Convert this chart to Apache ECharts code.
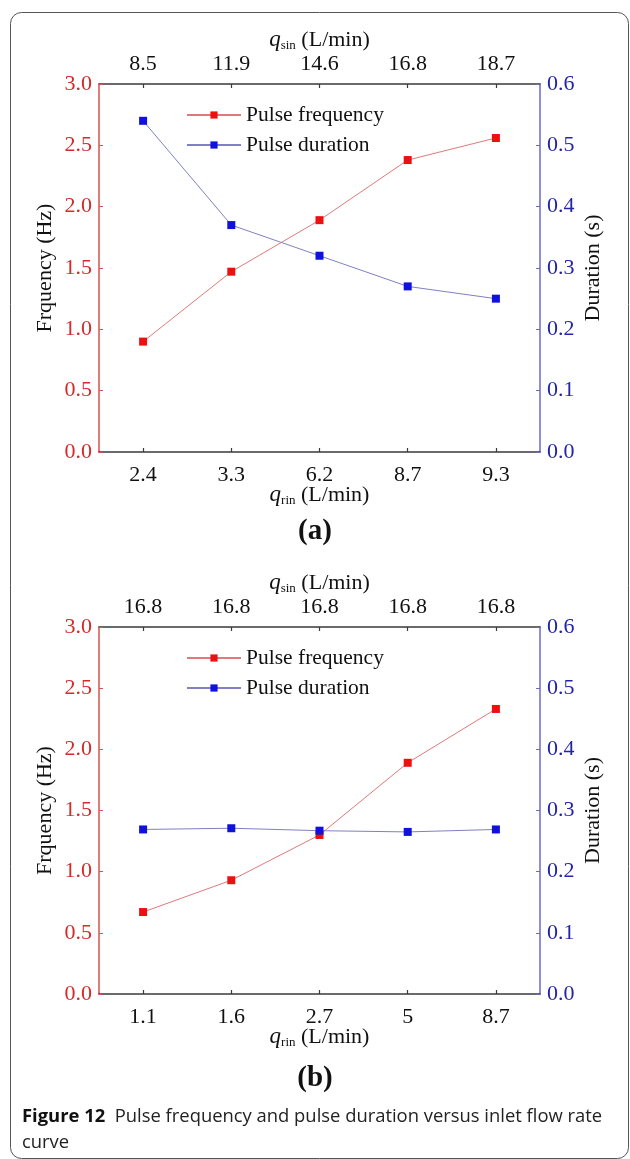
<!DOCTYPE html>
<html>
<head>
<meta charset="utf-8">
<script src="https://cdn.jsdelivr.net/npm/echarts@6/dist/echarts.min.js"></script>
<style>
  html, body { margin: 0; padding: 0; background: #fff; }
  #chart { width: 630px; height: 1159px; }
</style>
</head>
<body>
<div id="chart"></div>
<script>
// Panel (a): rear-inlet flow varies together with side-inlet flow
const qRinA = ['2.4', '3.3', '6.2', '8.7', '9.3'];
const qSinA = ['8.5', '11.9', '14.6', '16.8', '18.7'];
const freqA = [0.90, 1.47, 1.89, 2.38, 2.56];
const durA = [0.54, 0.37, 0.32, 0.27, 0.25];

// Panel (b): side-inlet flow held at 16.8 L/min
const qRinB = ['1.1', '1.6', '2.7', '5', '8.7'];
const qSinB = ['16.8', '16.8', '16.8', '16.8', '16.8'];
const freqB = [0.67, 0.93, 1.30, 1.89, 2.33];
const durB = [0.269, 0.271, 0.267, 0.265, 0.269];

const freqTicks = { min: 0, max: 3, interval: 0.5 };
const durTicks = { min: 0, max: 0.6, interval: 0.1 };

const SERIF = '"Liberation Serif", "Times New Roman", serif';
const RED = '#d42a2a';
const BLUE = '#2424a8';
const AXIS_DARK = '#3a3a3a';
const FS = 22;

const chart = echarts.init(document.getElementById('chart'), null, { renderer: 'canvas' });

const panels = [
  { top: 84, height: 368, rin: qRinA, sin: qSinA, freq: freqA, dur: durA, tag: '(a)', tagY: 531 },
  { top: 627, height: 367, rin: qRinB, sin: qSinB, freq: freqB, dur: durB, tag: '(b)', tagY: 1078 }
];

const nameRich = {
  q: { fontFamily: SERIF, fontStyle: 'italic', fontSize: 23, color: '#111', lineHeight: 24 },
  s: { fontFamily: SERIF, fontSize: 13, color: '#111', lineHeight: 24, padding: [11, 0, 0, 0] },
  t: { fontFamily: SERIF, fontSize: FS, color: '#111', lineHeight: 24 }
};

const grids = [], xAxes = [], yAxes = [], series = [], legends = [], graphics = [];

panels.forEach((p, i) => {
  grids.push({ left: 99, right: 90, top: p.top, height: p.height, containLabel: false });

  const tick = { show: true, inside: true, length: 4, alignWithLabel: true, lineStyle: { color: AXIS_DARK, width: 1.2 } };
  xAxes.push({
    type: 'category', gridIndex: i, position: 'bottom', data: p.rin, boundaryGap: true,
    axisLine: { show: true, onZero: false, lineStyle: { color: AXIS_DARK, width: 1.5 } },
    axisTick: tick,
    axisLabel: { color: '#111', fontFamily: SERIF, fontSize: FS, margin: 12 },
    name: '{q|q}{s|rin}{t| (L/min)}', nameLocation: 'middle', nameGap: 31, nameMoveOverlap: false,
    nameTextStyle: { rich: nameRich },
    splitLine: { show: false }
  });
  xAxes.push({
    type: 'category', gridIndex: i, position: 'top', data: p.sin, boundaryGap: true,
    axisLine: { show: true, onZero: false, lineStyle: { color: AXIS_DARK, width: 1.5 } },
    axisTick: tick,
    axisLabel: { color: '#111', fontFamily: SERIF, fontSize: FS, margin: 9 },
    name: '{q|q}{s|sin}{t| (L/min)}', nameLocation: 'middle', nameGap: 32, nameMoveOverlap: false,
    nameTextStyle: { rich: nameRich },
    splitLine: { show: false }
  });

  yAxes.push({
    type: 'value', gridIndex: i, position: 'left',
    min: freqTicks.min, max: freqTicks.max, interval: freqTicks.interval,
    axisLine: { show: true, onZero: false, lineStyle: { color: '#d85050', width: 1.5 } },
    axisTick: { show: true, inside: true, length: 4, lineStyle: { color: '#d85050' } },
    axisLabel: { color: RED, fontFamily: SERIF, fontSize: FS, margin: 7, formatter: v => v.toFixed(1) },
    splitLine: { show: false },
    name: 'Frquency (Hz)', nameLocation: 'middle', nameGap: 43, nameRotate: 90, nameMoveOverlap: false,
    nameTextStyle: { color: '#111', fontFamily: SERIF, fontSize: FS }
  });
  yAxes.push({
    type: 'value', gridIndex: i, position: 'right',
    min: durTicks.min, max: durTicks.max, interval: durTicks.interval,
    axisLine: { show: true, onZero: false, lineStyle: { color: '#6a6ac8', width: 1.5 } },
    axisTick: { show: true, inside: true, length: 4, lineStyle: { color: '#6a6ac8' } },
    axisLabel: { color: BLUE, fontFamily: SERIF, fontSize: FS, margin: 7, formatter: v => v.toFixed(1) },
    splitLine: { show: false },
    name: 'Duration (s)', nameLocation: 'middle', nameGap: 42, nameRotate: 90, nameMoveOverlap: false,
    nameTextStyle: { color: '#111', fontFamily: SERIF, fontSize: FS }
  });

  series.push({
    name: 'Pulse frequency', type: 'line', xAxisIndex: i * 2, yAxisIndex: i * 2,
    data: p.freq, symbol: 'rect', symbolSize: 8, showSymbol: true,
    lineStyle: { color: '#e07a7a', width: 1 },
    itemStyle: { color: '#ee1010' },
    emphasis: { disabled: true }, animation: false
  });
  series.push({
    name: 'Pulse duration', type: 'line', xAxisIndex: i * 2, yAxisIndex: i * 2 + 1,
    data: p.dur, symbol: 'rect', symbolSize: 8, showSymbol: true,
    lineStyle: { color: '#8080c4', width: 1 },
    itemStyle: { color: '#1010e0' },
    emphasis: { disabled: true }, animation: false
  });

  legends.push({
    orient: 'vertical', left: 181, top: p.top + 15,
    itemWidth: 54, itemHeight: 9, itemGap: 8,
    selectedMode: false,
    textStyle: { fontFamily: SERIF, fontSize: 21.5, color: '#111', lineHeight: 21 },
    data: ['Pulse frequency', 'Pulse duration']
  });

  graphics.push({
    type: 'text', left: 'center', top: p.tagY - 14,
    style: { text: p.tag, font: 'bold 29px ' + SERIF, fill: '#111' }
  });
});

// frame around the figure
graphics.push({
  type: 'rect', z: -1,
  shape: { x: 10.5, y: 12.5, width: 618, height: 1146, r: 11 },
  style: { fill: 'none', stroke: '#555', lineWidth: 1 }
});

// figure caption
graphics.push({
  type: 'text', left: 22, top: 1104,
  style: {
    text: '{b|Figure 12}  Pulse frequency and pulse duration versus inlet flow rate\ncurve',
    font: '18.4px "Open Sans", "Noto Sans", sans-serif',
    fill: '#222',
    lineHeight: 26,
    rich: {
      b: { font: 'bold 18.4px "Open Sans", "Noto Sans", sans-serif', fill: '#111', lineHeight: 26 }
    }
  }
});

chart.setOption({
  animation: false,
  backgroundColor: '#fff',
  grid: grids,
  xAxis: xAxes,
  yAxis: yAxes,
  legend: legends,
  series: series,
  graphic: graphics
});
</script>
</body>
</html>
